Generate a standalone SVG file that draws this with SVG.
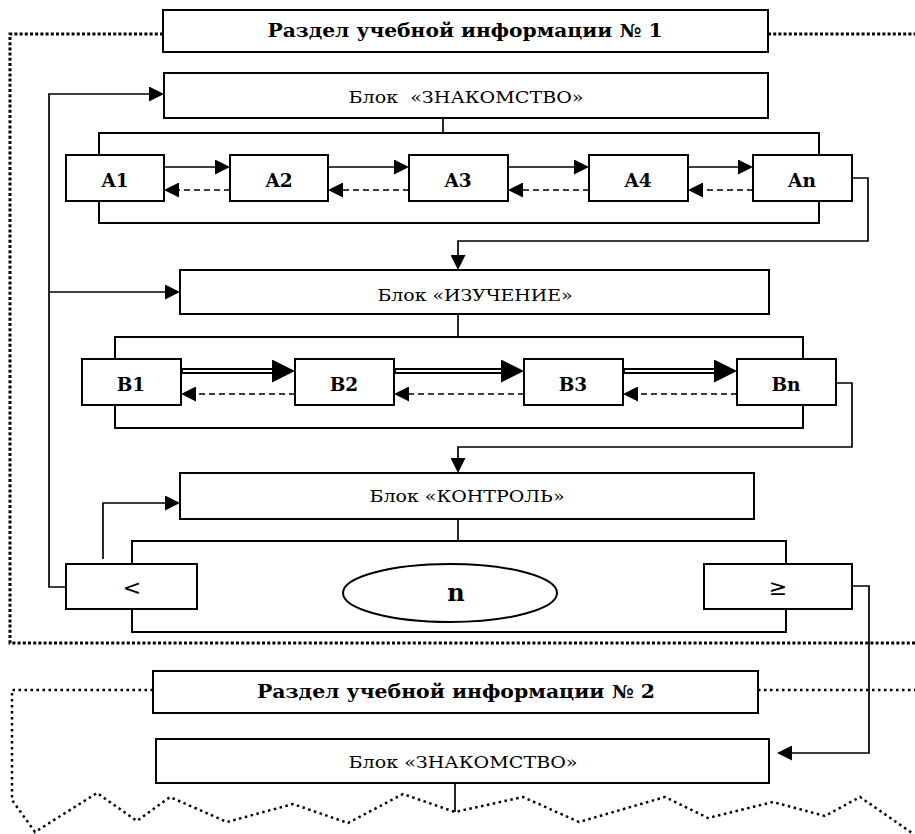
<svg xmlns="http://www.w3.org/2000/svg" width="915" height="834" viewBox="0 0 915 834">
<style>
.box{fill:#fff;stroke:#000;stroke-width:2}
.frame{fill:none;stroke:#000;stroke-width:2}
.ln{fill:none;stroke:#000;stroke-width:1.7}
.dash{fill:none;stroke:#000;stroke-width:1.7;stroke-dasharray:6 4}
.dot1{fill:none;stroke:#000;stroke-width:3;stroke-dasharray:3 2.2}
.dot2{fill:none;stroke:#000;stroke-width:2.5;stroke-dasharray:2.5 3.5}
.ttl{font-family:"DejaVu Serif","Liberation Serif",serif;font-weight:bold;font-size:18px;text-anchor:middle}
.blk{font-family:"DejaVu Serif","Liberation Serif",serif;font-size:17px;text-anchor:middle}
.lab{font-family:"DejaVu Serif","Liberation Serif",serif;font-weight:bold;font-size:18.5px;text-anchor:middle}
.nlab{font-family:"DejaVu Serif","Liberation Serif",serif;font-weight:bold;font-size:24px;text-anchor:middle}
.sym{font-family:"DejaVu Sans",sans-serif;font-size:22px;text-anchor:middle}
</style>
<defs>
<marker id="arr" markerUnits="userSpaceOnUse" markerWidth="15" markerHeight="15" refX="0" refY="7.5" orient="auto"><path d="M0,0 L15,7.5 L0,15 z" fill="#000"/></marker>
<marker id="arrBig" markerUnits="userSpaceOnUse" markerWidth="23" markerHeight="23" refX="0" refY="11.5" orient="auto"><path d="M0,0 L23,11.5 L0,23 z" fill="#000"/></marker>
</defs>

<g id="boundaries">
<path class="dot1" d="M163,34 H10 V643 H915"/>
<path class="dot1" d="M768,34 H915"/>
<path class="dot2" d="M153,690 H12 V800 L35,832 L97,793 L137,821 L170,797 L227,822 L293,804 L348,823 L403,794 L455,812 L523,797 L579,822 L665,797 L708,818 L773,802 L825,816 L860,797 L912,833"/>
<path class="dot2" d="M758,690 H915"/>
</g>

<g id="frames">
<rect class="frame" x="99" y="133" width="720" height="90"/>
<rect class="frame" x="115" y="337" width="688" height="91"/>
<rect class="frame" x="132" y="541" width="654" height="91"/>
</g>

<g id="connectors">
<path class="ln" d="M443,118 V133"/>
<path class="ln" d="M458,314 V337"/>
<path class="ln" d="M458,519 V541"/>
<path class="ln" d="M455,783 V812"/>
<path class="ln" d="M66,587 H49 V94 H149" marker-end="url(#arr)"/>
<path class="ln" d="M49,292 H165" marker-end="url(#arr)"/>
<path class="ln" d="M103,559 V503 H165" marker-end="url(#arr)"/>
<path class="ln" d="M852,178 H868 V241 H458 V255" marker-end="url(#arr)"/>
<path class="ln" d="M836,383 H852 V447 H458 V458" marker-end="url(#arr)"/>
<path class="ln" d="M852,586 H869 V753 H792" marker-end="url(#arr)"/>
<path class="ln" d="M164,167 H215" marker-end="url(#arr)"/>
<path class="ln" d="M328,167 H394" marker-end="url(#arr)"/>
<path class="ln" d="M508,167 H574" marker-end="url(#arr)"/>
<path class="ln" d="M688,167 H738" marker-end="url(#arr)"/>
<path class="dash" d="M230,190 H179" marker-end="url(#arr)"/>
<path class="dash" d="M409,190 H343" marker-end="url(#arr)"/>
<path class="dash" d="M589,190 H523" marker-end="url(#arr)"/>
<path class="dash" d="M753,190 H703" marker-end="url(#arr)"/>
<path d="M181,371 H272" stroke="#000" stroke-width="6" fill="none" marker-end="url(#arrBig)"/>
<path d="M183,371 H272" stroke="#fff" stroke-width="2" fill="none"/>
<path d="M394,371 H501" stroke="#000" stroke-width="6" fill="none" marker-end="url(#arrBig)"/>
<path d="M396,371 H501" stroke="#fff" stroke-width="2" fill="none"/>
<path d="M623,371 H714" stroke="#000" stroke-width="6" fill="none" marker-end="url(#arrBig)"/>
<path d="M625,371 H714" stroke="#fff" stroke-width="2" fill="none"/>
<path class="dash" d="M295,394 H196" marker-end="url(#arr)"/>
<path class="dash" d="M524,394 H409" marker-end="url(#arr)"/>
<path class="dash" d="M737,394 H638" marker-end="url(#arr)"/>
</g>

<g id="sec1-title"><rect class="box" x="163" y="10" width="605" height="42"/><text class="ttl" x="465" y="37" textLength="395" lengthAdjust="spacingAndGlyphs">Раздел учебной информации № 1</text></g>
<g id="blok-znakomstvo-1"><rect class="box" x="164" y="73" width="604" height="45"/><text class="blk" x="466" y="103" xml:space="preserve" textLength="235" lengthAdjust="spacingAndGlyphs">Блок  «ЗНАКОМСТВО»</text></g>
<g id="A1"><rect class="box" x="66" y="155" width="98" height="46"/><text class="lab" x="115" y="187">A1</text></g>
<g id="A2"><rect class="box" x="230" y="155" width="98" height="46"/><text class="lab" x="279" y="187">A2</text></g>
<g id="A3"><rect class="box" x="409" y="155" width="99" height="46"/><text class="lab" x="458" y="187">A3</text></g>
<g id="A4"><rect class="box" x="589" y="155" width="99" height="46"/><text class="lab" x="638" y="187">A4</text></g>
<g id="An"><rect class="box" x="753" y="155" width="99" height="46"/><text class="lab" x="802" y="187">An</text></g>

<g id="blok-izuchenie"><rect class="box" x="180" y="270" width="589" height="44"/><text class="blk" x="475" y="301" textLength="195" lengthAdjust="spacingAndGlyphs">Блок «ИЗУЧЕНИЕ»</text></g>
<g id="B1"><rect class="box" x="82" y="359" width="99" height="46"/><text class="lab" x="131" y="391">B1</text></g>
<g id="B2"><rect class="box" x="295" y="359" width="99" height="46"/><text class="lab" x="344" y="391">B2</text></g>
<g id="B3"><rect class="box" x="524" y="359" width="99" height="46"/><text class="lab" x="573" y="391">B3</text></g>
<g id="Bn"><rect class="box" x="737" y="359" width="99" height="46"/><text class="lab" x="786" y="391">Bn</text></g>

<g id="blok-kontrol"><rect class="box" x="180" y="473" width="574" height="46"/><text class="blk" x="467" y="502" textLength="195" lengthAdjust="spacingAndGlyphs">Блок «КОНТРОЛЬ»</text></g>
<g id="lt"><rect class="box" x="66" y="564" width="131" height="45"/><text class="sym" x="132" y="595">&lt;</text></g>
<g id="n"><ellipse class="box" cx="450" cy="593" rx="107" ry="29"/><text class="nlab" x="456" y="601">n</text></g>
<g id="ge"><rect class="box" x="704" y="564" width="148" height="45"/><text class="sym" x="778" y="595">≥</text></g>

<g id="sec2-title"><rect class="box" x="153" y="671" width="605" height="42"/><text class="ttl" x="456" y="698" textLength="398" lengthAdjust="spacingAndGlyphs">Раздел учебной информации № 2</text></g>
<g id="blok-znakomstvo-2"><rect class="box" x="156" y="739" width="613" height="44"/><text class="blk" x="463" y="768" textLength="229" lengthAdjust="spacingAndGlyphs">Блок «ЗНАКОМСТВО»</text></g>
</svg>
